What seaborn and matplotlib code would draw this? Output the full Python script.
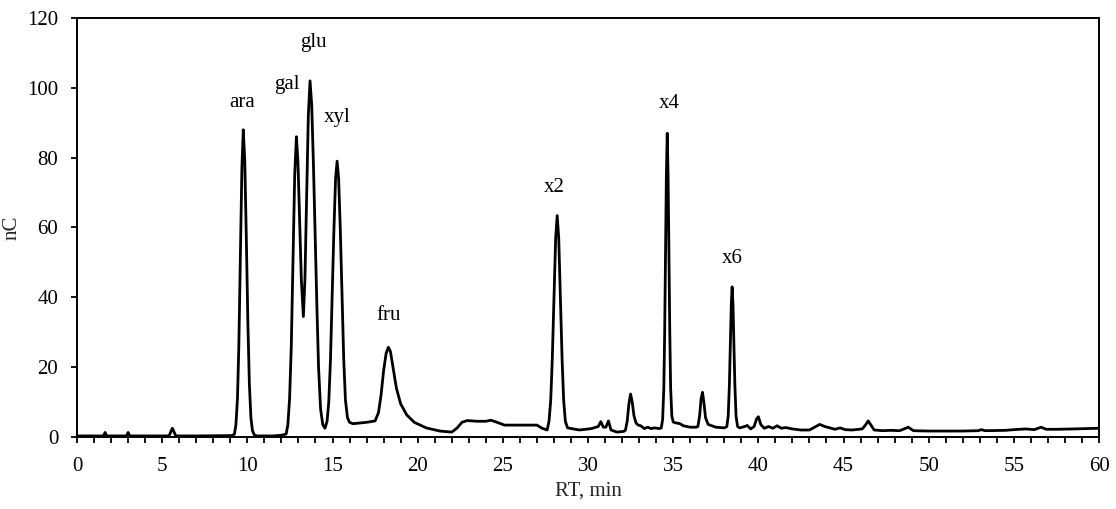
import matplotlib
matplotlib.use("Agg")
import matplotlib.pyplot as plt
import seaborn as sns
import pandas as pd
from matplotlib.ticker import MultipleLocator

# Retention time (min) and detector response (nC)
rt = [0.0, 1.55, 1.65, 1.75, 2.9, 3.0, 3.1, 5.4, 5.6, 5.8, 7.0, 9.1,
      9.24, 9.33, 9.42, 9.5, 9.59, 9.68, 9.76, 9.85, 9.94, 10.03, 10.12, 10.21, 10.3, 10.42,
      10.6, 11.5, 12.0, 12.18,
      12.28, 12.38, 12.48, 12.58, 12.68, 12.78, 12.88, 12.97, 13.07, 13.17, 13.29,
      13.38, 13.48, 13.58, 13.68, 13.78, 13.88, 13.98, 14.08, 14.18, 14.3, 14.43, 14.56,
      14.68, 14.78, 14.88, 14.98, 15.08, 15.18, 15.27, 15.36, 15.46, 15.56, 15.66, 15.76, 15.88,
      16.0, 16.2, 17.0, 17.5, 17.7, 17.85, 18.0, 18.15, 18.28, 18.4, 18.55, 18.75, 19.0,
      19.36, 19.8, 20.5, 21.3, 22.0, 22.3, 22.6, 22.9, 23.5, 24.0, 24.3, 24.6, 25.1,
      26.0, 27.0, 27.3, 27.6, 27.71, 27.81, 27.9, 28.0, 28.1, 28.19, 28.28, 28.38, 28.48,
      28.57, 28.67, 28.8, 29.5, 30.2, 30.6, 30.75, 30.9, 31.05, 31.2, 31.35, 31.7, 32.1,
      32.2, 32.3, 32.4, 32.5, 32.6, 32.7, 32.82, 32.95, 33.1, 33.3, 33.5, 33.7, 33.9, 34.2,
      34.3, 34.38, 34.45, 34.5, 34.55, 34.6, 34.65, 34.7, 34.75, 34.8, 34.85, 34.92, 35.0,
      35.1, 35.4, 35.6, 36.0, 36.35, 36.45, 36.55, 36.64, 36.72, 36.8, 36.9, 37.05,
      37.5, 38.0, 38.15, 38.23, 38.3, 38.36, 38.41, 38.46, 38.51, 38.56, 38.62, 38.69, 38.78,
      38.9, 39.2, 39.35, 39.55, 39.75, 39.9, 40.0, 40.15, 40.35, 40.6, 40.85,
      41.1, 41.35, 41.6, 42.0, 42.5, 43.0, 43.3, 43.6, 43.9, 44.2, 44.5, 44.8, 45.1,
      45.5, 46.1, 46.3, 46.45, 46.6, 46.8, 47.3, 47.8, 48.3, 48.8, 49.1, 50.0, 52.0,
      52.9, 53.1, 53.3, 54.5, 55.0, 55.7, 56.2, 56.6, 56.9, 57.5, 58.5, 60.0]
nc = [0.3, 0.3, 1.3, 0.3, 0.3, 1.3, 0.3, 0.3, 2.5, 0.3, 0.3, 0.4,
      0.8, 3.5, 11.0, 26.0, 52.0, 77.0, 88.0, 79.0, 57.0, 33.0, 15.0, 5.5, 1.8, 0.5,
      0.3, 0.3, 0.5, 0.7,
      0.9, 3.5, 11.0, 26.0, 50.0, 75.0, 86.0, 79.0, 62.0, 45.0, 34.5,
      45.0, 68.0, 92.0, 102.0, 95.0, 78.0, 58.0, 38.0, 20.0, 8.0, 3.5, 2.5,
      4.5, 10.0, 22.0, 40.0, 59.0, 74.0, 79.0, 74.0, 59.0, 40.0, 22.0, 10.5, 5.5,
      4.2, 3.8, 4.2, 4.6, 7.0, 12.0, 19.0, 24.0, 25.7, 24.5, 20.0, 14.0, 9.5,
      6.3, 4.2, 2.6, 1.7, 1.4, 2.5, 4.2, 4.7, 4.5, 4.5, 4.8, 4.3, 3.4,
      3.4, 3.4, 2.5, 2.0, 4.5, 10.5, 22.0, 40.0, 57.0, 63.4, 57.0, 40.0, 22.0,
      10.5, 4.5, 2.6, 2.0, 2.4, 3.0, 4.4, 2.8, 2.8, 4.6, 2.0, 1.4, 1.6,
      2.0, 4.5, 9.5, 12.3, 9.8, 6.0, 4.0, 3.4, 3.2, 2.4, 2.8, 2.4, 2.6, 2.4,
      2.6, 5.0, 14.0, 30.0, 52.0, 75.0, 87.0, 75.0, 52.0, 30.0, 14.0, 6.0, 4.3,
      4.1, 3.8, 3.2, 2.8, 2.8, 3.0, 6.0, 11.0, 12.8, 10.0, 5.5, 3.6,
      2.8, 2.6, 3.0, 6.0, 15.0, 28.0, 38.0, 43.0, 38.0, 28.0, 15.0, 6.0, 3.0,
      2.6, 3.0, 3.3, 2.3, 3.0, 5.2, 5.8, 3.5, 2.5, 3.0, 2.5,
      3.2, 2.5, 2.7, 2.3, 2.0, 2.0, 2.8, 3.6, 3.0, 2.6, 2.2, 2.6, 2.1,
      2.0, 2.3, 3.5, 4.6, 3.5, 2.0, 1.8, 1.9, 1.8, 2.8, 1.8, 1.7, 1.7,
      1.8, 2.1, 1.8, 1.9, 2.1, 2.3, 2.1, 2.8, 2.2, 2.2, 2.3, 2.5]

# Peak annotations
peak_names = ["ara", "gal", "glu", "xyl", "fru", "x2", "x4", "x6"]
label_rt = [9.67, 12.3, 13.86, 15.3, 18.3, 28.0, 34.76, 38.44]
label_nc = [95.7, 100.9, 113.0, 91.4, 34.8, 71.4, 95.5, 51.0]

x_label = "RT, min"
y_label = "nC"

df = pd.DataFrame({"RT": rt, "nC": nc})

sns.set_theme(style="ticks")
plt.rcParams["font.family"] = ["Liberation Serif", "DejaVu Serif"]
plt.rcParams["font.size"] = 15

fig = plt.figure(figsize=(11.16, 5.09), dpi=100)
ax = fig.add_axes([0.069, 0.1415, 0.9158, 0.8231])

sns.lineplot(data=df, x="RT", y="nC", color="black", linewidth=2.0,
             estimator=None, sort=False, ax=ax)

for name, xr, yr in zip(peak_names, label_rt, label_nc):
    ax.text(xr, yr, name, ha="center", va="center", fontsize=15, color="black")

ax.set_xlim(0, 60)
ax.set_ylim(0, 120)
ax.xaxis.set_major_locator(MultipleLocator(5))
ax.xaxis.set_minor_locator(MultipleLocator(1))
ax.yaxis.set_major_locator(MultipleLocator(20))
ax.tick_params(axis="both", which="both", direction="out", length=4.5, width=1.3,
               colors="black", labelsize=15)
ax.tick_params(axis="x", which="major", pad=10)
ax.tick_params(axis="y", which="major", pad=9)
for side in ["left", "right", "top", "bottom"]:
    ax.spines[side].set_visible(True)
    ax.spines[side].set_color("black")
    ax.spines[side].set_linewidth(1.4)

ax.set_xlabel(x_label, fontsize=15, labelpad=4)
ax.set_ylabel(y_label, fontsize=15, labelpad=4)

fig.savefig("out.png", dpi=100)
